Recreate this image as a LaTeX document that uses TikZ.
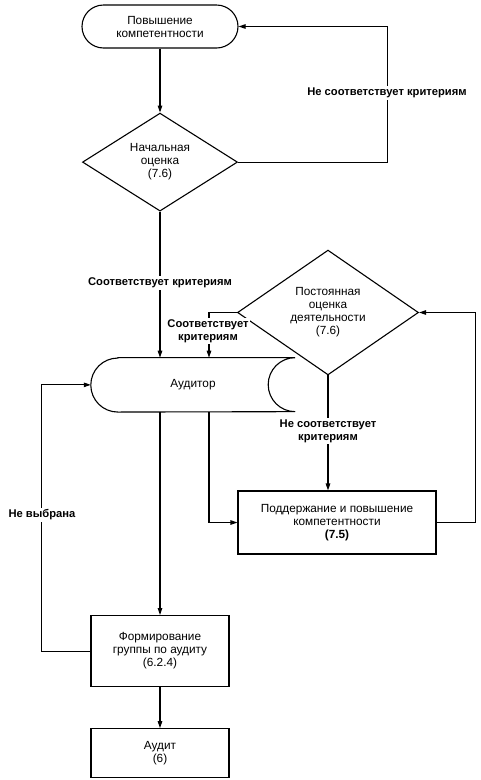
\documentclass[tikz,border=0pt]{standalone}
\usepackage{fontspec}
\setmainfont{Liberation Sans}
\usetikzlibrary{shapes.geometric}
\usetikzlibrary{positioning,arrows.meta}
\tikzset{
    terminal/.style={
        draw, line width=1.1pt, rounded corners=21.5pt,
        minimum width=156pt, minimum height=43pt,
        inner sep=0pt, align=center
    },
    decision/.style={
        diamond, draw, line width=1.1pt,
        inner sep=0pt, align=center
    },
    process/.style={
        draw, line width=1.1pt, rectangle,
        inner sep=0pt, align=center
    },
    storage/.style={
        rectangle, minimum width=204pt, minimum height=54pt,
        inner sep=0pt, align=center
    }
}

\begin{document}
\begin{tikzpicture}[
    x=1pt, y=1pt,
    font=\fontsize{11.8}{13}\selectfont,
    arrow/.style={-{Triangle[length=7pt,width=4.5pt]}, line width=1.1pt},
    line/.style={line width=1.1pt},
    edgetext/.style={fill=white, inner sep=1.5pt, align=center,
        font=\fontsize{11.2}{13}\selectfont\bfseries},
]
\useasboundingbox (0,0) rectangle (481,-780);

% ===============================
%        main column (left)
% ===============================

\node[terminal] (raise) at (160,-26.5) {Повышение\\компетентности};

\node[decision, minimum width=155pt, minimum height=98pt,
      below=64pt of raise] (initial)
    {Начальная\\оценка\\(7.6)};

\node[storage, below=146pt of initial, xshift=33pt] (auditor) {Аудитор};

\node[process, minimum width=138pt, minimum height=71pt,
      below=203pt of auditor, xshift=-33pt] (team)
    {Формирование\\группы по аудиту\\(6.2.4)};

\node[process, minimum width=138pt, minimum height=49pt,
      below=41pt of team] (audit)
    {Аудит\\(6)};


% ===============================
%        evaluation loop (right)
% ===============================

\node[decision, minimum width=181pt, minimum height=111pt] (ongoing)
    at (328,-312.5) {Постоянная\\оценка\\деятельности\\(7.6)};

\node[process, minimum width=198pt, minimum height=63pt,
      below=115pt of ongoing, xshift=9pt] (keep)
    {Поддержание и повышение\\компетентности\\\textbf{(7.5)}};


% ===============================
%        auditor outline
% ===============================

\draw[line] ([xshift=27pt]auditor.north west) -- (auditor.north east)
    arc[start angle=90, end angle=270, radius=27pt]
    -- ([xshift=27pt]auditor.south west)
    arc[start angle=270, end angle=90, radius=27pt] -- cycle;


% ===============================
%              arrows
% ===============================

\draw[arrow] (raise) -- (initial);
\draw[arrow] (initial.east) -- ++(149,0) |- (raise.east);
\draw[arrow] (initial.south) -- (initial.south |- auditor.north);

\draw[arrow] (ongoing.west) -| ([xshift=16pt]auditor.north);
\draw[arrow] (ongoing.south) -- (ongoing.south |- keep.north);
\draw[arrow] (keep.east) -- ++(39,0) |- (ongoing.east);
\draw[arrow] ([xshift=16pt]auditor.south) |- (keep.west);

\draw[arrow] (team.north |- auditor.south) -- (team.north);
\draw[arrow] (team.west) -- ++(-49,0) |- (auditor.west);
\draw[arrow] (team) -- (audit);


% ===============================
%              labels
% ===============================

\node[edgetext] (nofit1) at (387,-93) {Не соответствует критериям};
\node[edgetext] (fit1) at (160,-283) {Соответствует критериям};
\node[edgetext] (fit2) at (208,-331) {Соответствует\\критериям};
\node[edgetext] (nofit2) at (328,-431) {Не соответствует\\критериям};
\node[edgetext] (notsel) at (42,-515) {Не выбрана};

\end{tikzpicture}
\end{document}
